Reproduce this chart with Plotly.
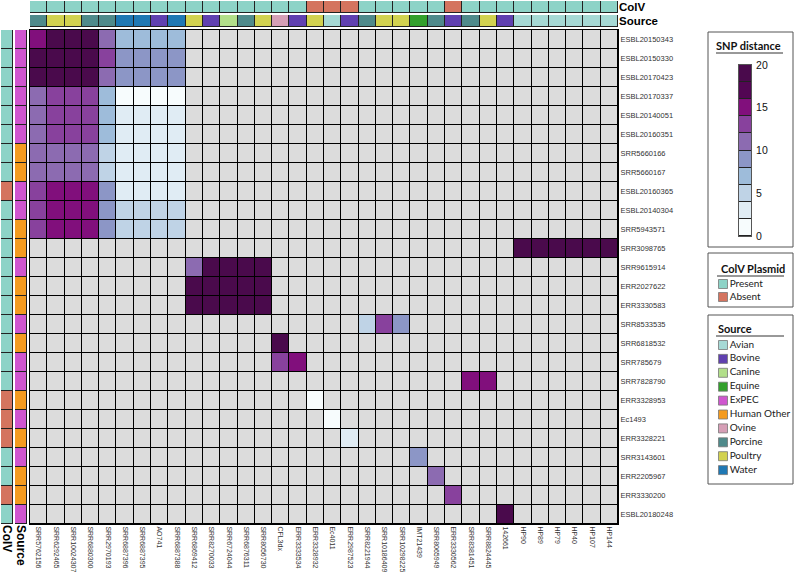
import plotly.graph_objects as go

# ---------------- data ----------------
cols = ["SRR5762156", "SRR6292465", "SRR10024307", "SRR6880300", "SRR2970193",
        "SRR6887396", "SRR6887395", "AO741", "SRR6887388", "SRR6869412",
        "SRR8270033", "SRR6724044", "SRR6876311", "SRR8056730", "CFL3dx",
        "ERR3333534", "ERR3328932", "Ec4011", "ERR2987523", "SRR8221944",
        "SRR10186409", "SRR10298225", "IMT21439", "SRR8065949", "ERR3330562",
        "SRR8381451", "SRR8824445", "142661", "HP90", "HP89", "HP79", "HP40",
        "HP107", "HP144"]
rows = ["ESBL20150343", "ESBL20150330", "ESBL20170423", "ESBL20170337",
        "ESBL20140051", "ESBL20160351", "SRR5660166", "SRR5660167",
        "ESBL20160365", "ESBL20140304", "SRR5943571", "SRR3098765",
        "SRR9615914", "ERR2027622", "ERR3330583", "SRR8533535", "SRR6818532",
        "SRR785679", "SRR7828790", "ERR3328953", "Ec1493", "ERR3328221",
        "SRR3143601", "ERR2205967", "ERR3330200", "ESBL20180248"]

col_colv = ["Present"] * 16 + ["Absent"] * 3 + ["Present"] * 5 + ["Absent"] + ["Present"] * 9
col_source = ["Porcine", "Poultry", "Poultry", "Porcine", "Porcine", "Water", "Water",
              "Bovine", "Water", "Poultry", "Bovine", "Canine", "Porcine", "Poultry",
              "Ovine", "Bovine", "Poultry", "Avian", "Bovine", "Porcine", "Poultry",
              "Poultry", "Equine", "Porcine", "Bovine", "Porcine", "Poultry", "Bovine",
              "Avian", "Avian", "Avian", "Avian", "Avian", "Avian"]
row_colv = ["Present"] * 8 + ["Absent"] + ["Present"] * 10 + ["Absent"] * 3 + \
           ["Present"] * 2 + ["Absent"] + ["Present"]
row_source = ["ExPEC"] * 6 + ["Human Other"] * 2 + ["ExPEC"] * 2 + ["Human Other"] * 2 + \
             ["ExPEC", "Human Other", "Human Other", "ExPEC", "Human Other", "ExPEC",
              "ExPEC", "Human Other", "ExPEC", "Human Other", "ExPEC", "Human Other",
              "Human Other", "ExPEC"]

# SNP distances of the ESBL cluster block (first 11 rows x first 9 columns)
cluster_rows = rows[:11]
cluster_cols = cols[:9]
cluster_snp = [
    [15, 19, 19, 19, 11, 7, 7, 7, 7],
    [19, 19, 19, 19, 13, 9, 9, 9, 9],
    [19, 19, 19, 19, 11, 9, 9, 9, 9],
    [11, 13, 13, 13, 7, 1, 1, 1, 1],
    [11, 13, 13, 13, 7, 3, 3, 3, 3],
    [11, 13, 13, 13, 7, 3, 3, 3, 3],
    [11, 11, 11, 11, 5, 3, 3, 3, 3],
    [11, 11, 11, 11, 5, 3, 3, 3, 3],
    [13, 15, 15, 15, 9, 3, 3, 3, 3],
    [13, 15, 15, 15, 9, 5, 5, 5, 5],
    [13, 15, 15, 15, 9, 5, 5, 5, 5],
]
# remaining (row, column, SNP distance) pairs
other_snp = [
    ("SRR3098765", "HP90", 19), ("SRR3098765", "HP89", 19), ("SRR3098765", "HP79", 19),
    ("SRR3098765", "HP40", 19), ("SRR3098765", "HP107", 19), ("SRR3098765", "HP144", 19),
    ("SRR9615914", "SRR6869412", 11), ("SRR9615914", "SRR8270033", 19),
    ("SRR9615914", "SRR6724044", 19), ("SRR9615914", "SRR6876311", 19),
    ("SRR9615914", "SRR8056730", 19),
    ("ERR2027622", "SRR6869412", 19), ("ERR2027622", "SRR8270033", 19),
    ("ERR2027622", "SRR6724044", 19), ("ERR2027622", "SRR6876311", 19),
    ("ERR2027622", "SRR8056730", 19),
    ("ERR3330583", "SRR6869412", 19), ("ERR3330583", "SRR8270033", 19),
    ("ERR3330583", "SRR6724044", 19), ("ERR3330583", "SRR6876311", 19),
    ("ERR3330583", "SRR8056730", 19),
    ("SRR8533535", "SRR8221944", 5), ("SRR8533535", "SRR10186409", 13),
    ("SRR8533535", "SRR10298225", 9),
    ("SRR6818532", "CFL3dx", 19),
    ("SRR785679", "CFL3dx", 13), ("SRR785679", "ERR3333534", 15),
    ("SRR7828790", "SRR8381451", 15), ("SRR7828790", "SRR8824445", 15),
    ("ERR3328953", "ERR3328932", 1),
    ("Ec1493", "Ec4011", 1),
    ("ERR3328221", "ERR2987523", 3),
    ("SRR3143601", "IMT21439", 9),
    ("ERR2205967", "SRR8065949", 11),
    ("ERR3330200", "ERR3330562", 13),
    ("ESBL20180248", "142661", 19),
]

snp_edges = [0, 2, 4, 6, 8, 10, 12, 14, 16, 18, 20]
snp_colors = ["#f7fcfd", "#e0ecf4", "#bfd3e6", "#9ebcda", "#8c96c6",
              "#8c6bb1", "#88419d", "#810f7c", "#520653", "#4a0a4c"]
snp_ticks = [0, 5, 10, 15, 20]

colv_levels = ["Present", "Absent"]
colv_colors = ["#8dd3c7", "#d4745f"]
source_levels = ["Avian", "Bovine", "Canine", "Equine", "ExPEC", "Human Other",
                 "Ovine", "Porcine", "Poultry", "Water"]
source_colors = ["#a6d9d5", "#6040b0", "#b2df8a", "#33a02c", "#cf56cf", "#f49b20",
                 "#d69fb6", "#4f8a8b", "#d2d250", "#1f78b4"]
na_color = "#dcdcdc"

# ---------------- build matrices ----------------
Z = [[None] * len(cols) for _ in rows]
for i, r in enumerate(cluster_rows):
    for j, c in enumerate(cluster_cols):
        Z[rows.index(r)][cols.index(c)] = cluster_snp[i][j]
for r, c, v in other_snp:
    Z[rows.index(r)][cols.index(c)] = v

zmax = snp_edges[-1]
snp_cs = []
for i, c in enumerate(snp_colors):
    snp_cs += [[snp_edges[i] / zmax, c], [snp_edges[i + 1] / zmax, c]]


def discrete_cs(colors):
    n = len(colors)
    out = []
    for i, c in enumerate(colors):
        out += [[i / n, c], [(i + 1) / n, c]]
    return out


def codes(values, levels):
    return [levels.index(v) for v in values]


W, H = 794, 573


def xd(a, b):
    return [a / W, b / W]


def yd(top, bottom):
    return [1 - bottom / H, 1 - top / H]


TICKFONT = "Liberation Sans, Arial, sans-serif"
LEGFONT = "Lato, Open Sans, sans-serif"

fig = go.Figure()

# main heatmap: NA layer + SNP layer
fig.add_trace(go.Heatmap(x=cols, y=rows, z=[[0] * len(cols) for _ in rows],
                         colorscale=[[0, na_color], [1, na_color]], showscale=False,
                         xgap=1, ygap=1, hoverinfo="skip"))
fig.add_trace(go.Heatmap(x=cols, y=rows, z=Z, colorscale=snp_cs, zmin=0, zmax=zmax,
                         showscale=False, xgap=1, ygap=1, hoverinfo="skip"))

# column annotation bars
fig.add_trace(go.Heatmap(x=cols, y=["ColV"], z=[codes(col_colv, colv_levels)],
                         colorscale=discrete_cs(colv_colors), zmin=-0.5,
                         zmax=len(colv_levels) - 0.5, showscale=False, xgap=1, ygap=1,
                         xaxis="x", yaxis="y2", hoverinfo="skip"))
fig.add_trace(go.Heatmap(x=cols, y=["Source"], z=[codes(col_source, source_levels)],
                         colorscale=discrete_cs(source_colors), zmin=-0.5,
                         zmax=len(source_levels) - 0.5, showscale=False, xgap=1, ygap=1,
                         xaxis="x", yaxis="y3", hoverinfo="skip"))
# row annotation bars
fig.add_trace(go.Heatmap(x=["ColV"], y=rows, z=[[v] for v in codes(row_colv, colv_levels)],
                         colorscale=discrete_cs(colv_colors), zmin=-0.5,
                         zmax=len(colv_levels) - 0.5, showscale=False, xgap=1, ygap=1,
                         xaxis="x2", yaxis="y", hoverinfo="skip"))
fig.add_trace(go.Heatmap(x=["Source"], y=rows, z=[[v] for v in codes(row_source, source_levels)],
                         colorscale=discrete_cs(source_colors), zmin=-0.5,
                         zmax=len(source_levels) - 0.5, showscale=False, xgap=1, ygap=1,
                         xaxis="x3", yaxis="y", hoverinfo="skip"))

# colour key for SNP distance (banded)
mids = [(snp_edges[i] + snp_edges[i + 1]) / 2 for i in range(len(snp_colors))]
fig.add_trace(go.Heatmap(x=[0], y=mids, z=[[m] for m in mids], colorscale=snp_cs,
                         zmin=0, zmax=zmax, showscale=False, ygap=1,
                         xaxis="x4", yaxis="y4", hoverinfo="skip"))

# legends (ColV plasmid / Source) drawn as square markers in a pixel-space axis
sw_x = 723
colv_y0, source_y0, step = 284, 345, 13.9
fig.add_trace(go.Scatter(
    x=[sw_x] * len(colv_levels), y=[colv_y0 + i * 13 for i in range(len(colv_levels))],
    mode="markers+text", text=colv_levels, textposition="middle right",
    textfont=dict(family=LEGFONT, size=10, color="#222"),
    marker=dict(symbol="square", size=9, color=colv_colors, line=dict(color="#777", width=0.8)),
    xaxis="x5", yaxis="y5", hoverinfo="skip", showlegend=False))
fig.add_trace(go.Scatter(
    x=[sw_x] * len(source_levels), y=[source_y0 + i * step for i in range(len(source_levels))],
    mode="markers+text", text=source_levels, textposition="middle right",
    textfont=dict(family=LEGFONT, size=10, color="#222"),
    marker=dict(symbol="square", size=9, color=source_colors, line=dict(color="#777", width=0.8)),
    xaxis="x5", yaxis="y5", hoverinfo="skip", showlegend=False))

shapes = []
for xr, yr in [("x", "y"), ("x", "y2"), ("x", "y3"), ("x2", "y"), ("x3", "y"), ("x4", "y4")]:
    shapes.append(dict(type="rect", xref=xr + " domain", yref=yr + " domain",
                       x0=0, x1=1, y0=0, y1=1,
                       fillcolor="black" if (xr, yr) == ("x", "y") else "#222",
                       line=dict(width=0), layer="below"))

# legend boxes and title underlines (pixel space)
for (x0, y0, x1, y1) in [(708, 32, 793, 247), (708, 253, 793, 307), (708, 315, 793, 484)]:
    shapes.append(dict(type="rect", xref="x5", yref="y5", x0=x0, x1=x1, y0=y0, y1=y1,
                       line=dict(color="#555", width=1), fillcolor="rgba(0,0,0,0)"))
for (x0, x1, y) in [(716, 783, 53), (717, 784, 276), (716, 784, 336)]:
    shapes.append(dict(type="line", xref="x5", yref="y5", x0=x0, x1=x1, y0=y, y1=y,
                       line=dict(color="#333", width=1)))

annotations = [
    dict(text="<b>SNP distance</b>", x=748, y=45, xref="x5", yref="y5", showarrow=False,
         font=dict(family=LEGFONT, size=11, color="#111")),
    dict(text="<b>ColV Plasmid</b>", x=753, y=268, xref="x5", yref="y5", showarrow=False,
         font=dict(family=LEGFONT, size=11, color="#111")),
    dict(text="<b>Source</b>", x=716, y=328, xref="x5", yref="y5", showarrow=False,
         xanchor="left", font=dict(family=LEGFONT, size=11, color="#111")),
]

common = dict(showgrid=False, zeroline=False, ticks="", automargin=False)

fig.update_layout(
    width=W, height=H, margin=dict(l=0, r=0, t=0, b=0),
    template="none", paper_bgcolor="white", plot_bgcolor="rgba(0,0,0,0)",
    showlegend=False,
    xaxis=dict(domain=xd(30, 618), anchor="y", tickangle=90,
               tickfont=dict(family=TICKFONT, size=7, color="#333"),
               showline=True, mirror=True, linecolor="black", linewidth=1, **common),
    yaxis=dict(domain=yd(30, 524), anchor="x", side="right", autorange="reversed",
               tickfont=dict(family=TICKFONT, size=7.5, color="#333"),
               showline=True, mirror=True, linecolor="black", linewidth=1, **common),
    yaxis2=dict(domain=yd(1, 13), anchor="x", side="right", tickvals=["ColV"],
                ticktext=["<b>ColV</b>"], tickfont=dict(family=TICKFONT, size=11.5, color="black"),
                **common),
    yaxis3=dict(domain=yd(15, 27), anchor="x", side="right", tickvals=["Source"],
                ticktext=["<b>Source</b>"], tickfont=dict(family=TICKFONT, size=11.5, color="black"),
                **common),
    xaxis2=dict(domain=xd(1, 13), anchor="y", tickangle=90, tickvals=["ColV"],
                ticktext=["<b>ColV</b>"], tickfont=dict(family=TICKFONT, size=12, color="black"),
                **common),
    xaxis3=dict(domain=xd(15, 27), anchor="y", tickangle=90, tickvals=["Source"],
                ticktext=["<b>Source</b>"], tickfont=dict(family=TICKFONT, size=12, color="black"),
                **common),
    xaxis4=dict(domain=xd(739, 751), anchor="y4", showticklabels=False,
                showline=True, mirror=True, linecolor="#555", **common),
    yaxis4=dict(domain=yd(65, 236), anchor="x4", side="right", range=[0, zmax],
                tickvals=snp_ticks, tickfont=dict(family=TICKFONT, size=10.5, color="#111"),
                ticklabelstandoff=2,
                showline=True, mirror=True, linecolor="#555", **common),
    xaxis5=dict(domain=[0, 1], range=[0, W], anchor="y5", visible=False, **common),
    yaxis5=dict(domain=[0, 1], range=[H, 0], anchor="x5", visible=False, **common),
    shapes=shapes, annotations=annotations,
)

fig.write_html("out.html", config={"displayModeBar": False},
               post_script="document.body.style.margin='0';")
